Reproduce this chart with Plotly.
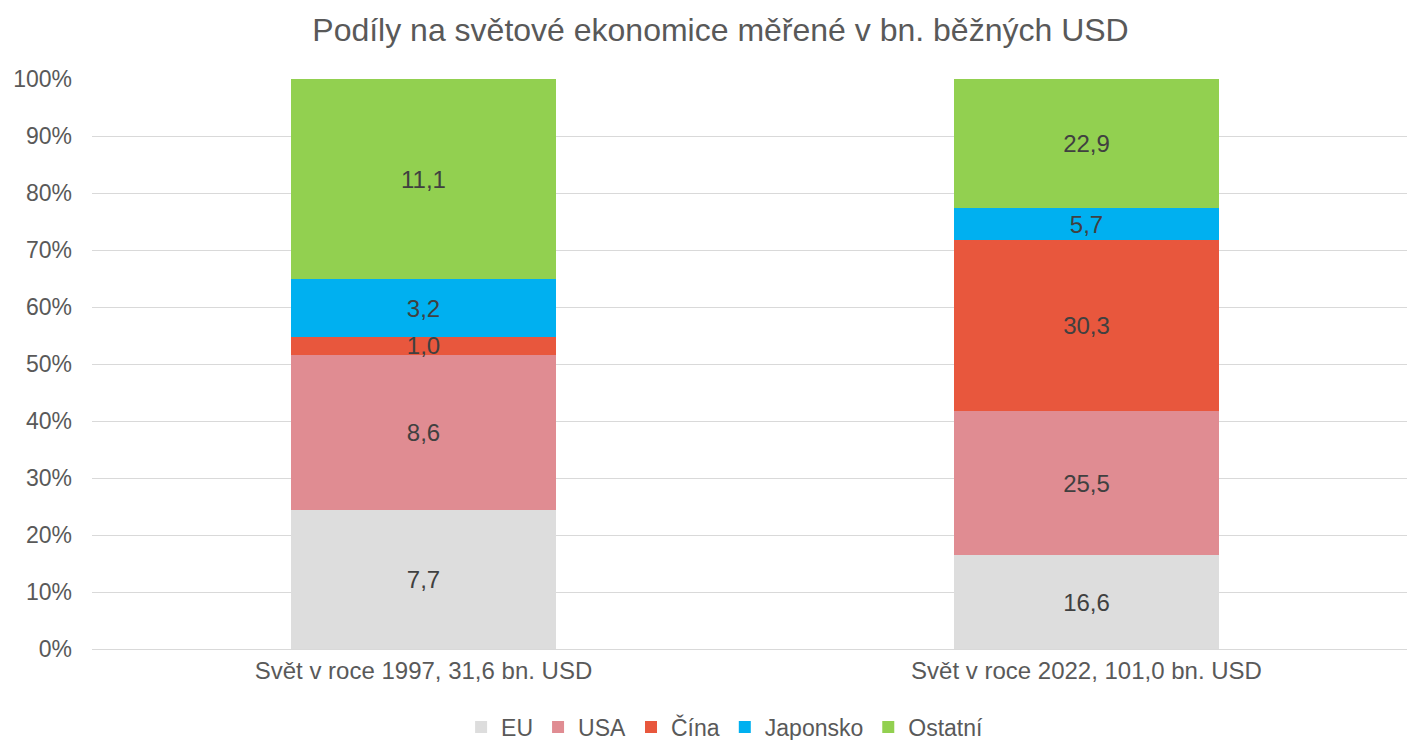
import plotly.graph_objects as go

categories = ["Svět v roce 1997, 31,6 bn. USD", "Svět v roce 2022, 101,0 bn. USD"]
series_names = ["EU", "USA", "Čína", "Japonsko", "Ostatní"]
eu = [7.7, 16.6]
usa = [8.6, 25.5]
cina = [1.0, 30.3]
japonsko = [3.2, 5.7]
ostatni = [11.1, 22.9]
colors = ["#DDDDDD", "#E08C92", "#E8573D", "#00B0F0", "#92D050"]

values = [eu, usa, cina, japonsko, ostatni]

fig = go.Figure()
for name, vals, col in zip(series_names, values, colors):
    fig.add_trace(go.Bar(
        x=categories, y=vals, name=name,
        marker=dict(color=col, line=dict(width=0)),
        text=[f"{v:.1f}".replace(".", ",") for v in vals],
        textposition="inside", insidetextanchor="middle",
        constraintext="none",
        textfont=dict(family="Liberation Sans, Arial", size=24, color="#404040"),
        width=0.4,
        hoverinfo="name+y",
    ))

fig.update_layout(
    barmode="stack", barnorm="percent",
    width=1407, height=740,
    margin=dict(l=92, r=0, t=79, b=91),
    paper_bgcolor="white", plot_bgcolor="white",
    font=dict(family="Liberation Sans, Arial", color="#595959", size=23),
    title=dict(text="Podíly na světové ekonomice měřené v bn. běžných USD",
               x=720.5 / 1407, xref="container", xanchor="center",
               y=1 - 30 / 740, yref="container", yanchor="middle",
               font=dict(size=32, color="#595959")),
    xaxis=dict(range=[-0.5, 1.4834], showgrid=False, showline=True,
               linecolor="#D9D9D9", ticks="", tickfont=dict(size=24)),
    yaxis=dict(range=[0, 100], dtick=10, ticksuffix="%", showgrid=True,
               gridcolor="#D9D9D9", gridwidth=1, zeroline=False,
               ticks="", tickfont=dict(size=23), ticklabelstandoff=19),
    legend=dict(orientation="h", x=0.515, xref="container", xanchor="center",
                y=1 - 727 / 740, yref="container", yanchor="middle",
                font=dict(size=23, color="#595959"),
                itemwidth=30, traceorder="normal"),
)
fig.write_html("out.html", config={"displayModeBar": False},
               post_script="document.body.style.margin='0';document.body.style.overflow='hidden';")
